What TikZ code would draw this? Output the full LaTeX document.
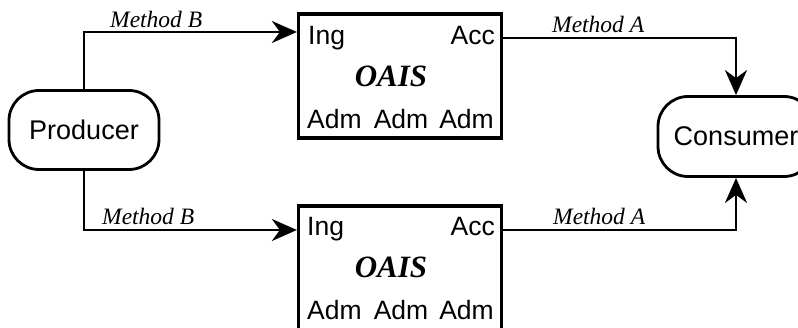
\documentclass[tikz,border=0pt]{standalone}
\usepackage{fontspec}
\usepackage{tikz}
\usetikzlibrary{arrows.meta,positioning,calc}
\newfontfamily\arialfont{Liberation Sans}
\newfontfamily\timesfont{Liberation Serif}

\begin{document}
\begin{tikzpicture}[
    x=1pt, y=-1pt,
    party/.style={rectangle, draw, line width=2.8pt, rounded corners=30pt, minimum width=150pt, minimum height=79pt, font=\arialfont\fontsize{27}{30}\selectfont},
    archive/.style={rectangle, draw, line width=3.2pt, minimum width=203pt, minimum height=124pt},
    title/.style={inner sep=0pt, font=\timesfont\bfseries\itshape\fontsize{31}{36}\selectfont},
    port/.style={inner sep=0pt, font=\arialfont\fontsize{26.5}{30}\selectfont},
    method/.style={inner sep=0pt, anchor=base west, font=\timesfont\itshape\fontsize{23.5}{26}\selectfont},
    arrow/.style={-{Stealth[length=25pt, width=22pt, inset=8pt]}, line width=2.8pt},
]
    \useasboundingbox (0,0) rectangle (798,328);

    % Producer and Consumer
    \node[party] (prod) at (84,130) {Producer};
    \node[party, minimum width=156pt, minimum height=80pt] (cons) at (736,136.5) {Consumer};

    % Upper archive
    \node[archive] (oaisA) at (400,76) {};
    \node[title] (titleA) at (391,76) {OAIS};
    \node[port, anchor=base west] (ingA) at (308,45) {Ing};
    \node[port, anchor=base east] (accA) at (495,45) {Acc};
    \node[port, anchor=base west] (admA1) at (307,129) {Adm};
    \node[port, anchor=base] (admA2) at (401,129) {Adm};
    \node[port, anchor=base east] (admA3) at (494,129) {Adm};

    % Lower archive
    \node[archive] (oaisB) at (400,268) {};
    \node[title] (titleB) at (391,267) {OAIS};
    \node[port, anchor=base west] (ingB) at (307,236) {Ing};
    \node[port, anchor=base east] (accB) at (495,236) {Acc};
    \node[port, anchor=base west] (admB1) at (307,320) {Adm};
    \node[port, anchor=base] (admB2) at (401,320) {Adm};
    \node[port, anchor=base east] (admB3) at (494,320) {Adm};

    % Connection points on the archives
    \coordinate (inA) at (oaisA.west |- 0,32);
    \coordinate (outA) at (oaisA.east |- 0,38);
    \coordinate (inB) at (oaisB.west |- 0,230);
    \coordinate (outB) at (oaisB.east |- 0,230);

    % Arrows
    \draw[arrow] (prod.north) |- (inA);
    \draw[arrow] (prod.south) |- (inB);
    \draw[arrow] (outA) -| (cons.north);
    \draw[arrow] (outB) -| (cons.south);

    % Method labels
    \node[method] (mbA) at (110,28) {Method B};
    \node[method] (mbB) at (102,225) {Method B};
    \node[method] (maA) at (552,33) {Method A};
    \node[method] (maB) at (553,225) {Method A};
\end{tikzpicture}
\end{document}
